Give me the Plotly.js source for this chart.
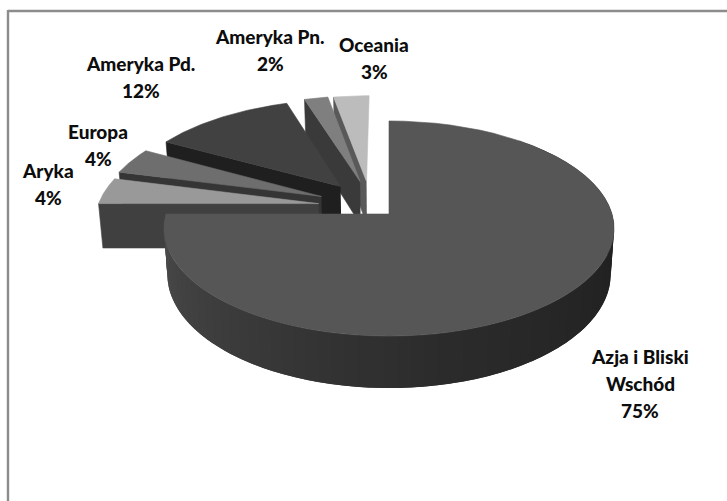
<!DOCTYPE html>
<html lang="pl">
<head>
<meta charset="utf-8">
<title>Wykres kołowy</title>
<script src="https://cdn.plot.ly/plotly-3.0.1.min.js"></script>
<style>html,body{margin:0;padding:0;background:#fff}#chart{width:727px;height:501px}</style>
</head>
<body>
<div id="chart"></div>
<script>
// Shares in percent, clockwise from twelve o'clock
const categories = ['Azja i Bliski Wschód', 'Aryka', 'Europa', 'Ameryka Pd.', 'Ameryka Pn.', 'Oceania'];
const shares = [75, 4, 4, 12, 2, 3];

// Label layout: text lines per category and where each block sits
const labelLines = [['Azja i Bliski', 'Wschód'], ['Aryka'], ['Europa'], ['Ameryka Pd.'], ['Ameryka Pn.'], ['Oceania']];
const labelX = [640, 48, 98, 140.5, 270, 374];
const labelY = [356, 170, 131, 63, 36, 44];

// Slice styling and explosion (offset of each apex in the plane of the disc)
const topColors = ['#565656', '#999999', '#6e6e6e', '#414141', '#7f7f7f', '#bcbcbc'];
const wallColors = ['#3a3a3a', '#404040', '#353535', '#1f1f1f', '#3a3a3a', '#595959'];
const offsetU = [0, -0.32, -0.31, -0.225, -0.135, -0.105];
const offsetV = [0, 0.10, 0.17, 0.27, 0.32, 0.32];

// Perspective projection of the tilted disc
const cx = 389, cy = 214, radiusX = 223, radiusY = 105.6, persp = 0.135, depth = 45;
function project(u, v, lowered) {
  const s = 1 / (1 + persp * v);
  return [
    cx + radiusX * u * s * (lowered ? 0.985 : 1),
    cy - radiusY * v * s + (lowered ? depth * s : 0)
  ];
}
const rad = d => d * Math.PI / 180;
const rim = (deg, i, lowered) => project(offsetU[i] + Math.sin(rad(deg)), offsetV[i] + Math.cos(rad(deg)), lowered);

function polygon(points, color, edge) {
  return {
    type: 'scatter', mode: 'lines', fill: 'toself', fillcolor: color,
    x: points.map(p => p[0]), y: points.map(p => p[1]),
    line: {color: color, width: edge}, hoverinfo: 'skip', showlegend: false
  };
}

// Start and end angle of every slice
const angles = [];
let running = 0;
shares.forEach(s => { angles.push([running * 3.6, (running + s) * 3.6]); running += s; });

function topFace(i) {
  const pts = [project(offsetU[i], offsetV[i], false)];
  for (let a = angles[i][0]; a <= angles[i][1] + 1e-6; a += (angles[i][1] - angles[i][0]) / 60) pts.push(rim(a, i, false));
  pts.push(pts[0]);
  return polygon(pts, topColors[i], 0.6);
}
function radialWall(i) {
  const a = angles[i][0];
  return polygon([
    project(offsetU[i], offsetV[i], false), rim(a, i, false),
    rim(a, i, true), project(offsetU[i], offsetV[i], true)
  ], wallColors[i], 0.6);
}

// Shaded rim of the large slice, from right (dark) to left (lighter)
const rimStops = [[40, 0x20], [110, 0x22], [170, 0x2c], [220, 0x3c], [270, 0x4c]];
function rimGrey(a) {
  for (let k = 1; k < rimStops.length; k++) {
    if (a <= rimStops[k][0]) {
      const t = (a - rimStops[k - 1][0]) / (rimStops[k][0] - rimStops[k - 1][0]);
      const g = Math.round(rimStops[k - 1][1] + t * (rimStops[k][1] - rimStops[k - 1][1]));
      return `rgb(${g},${g},${g})`;
    }
  }
  return 'rgb(76,76,76)';
}
// Each rim band reaches under the next one so no seams show between them
function rimBand(a, step) {
  const end = Math.min(a + step, 270);
  const upper = [], lower = [];
  for (let t = a; t <= end + 1e-6; t += 0.5) { upper.push(rim(t, 0, false)); lower.unshift(rim(t, 0, true)); }
  return polygon(upper.concat(lower), rimGrey(a), 0);
}

const traces = [];
// Back slices first, each overlapping the one behind it
for (let i = categories.length - 1; i >= 1; i--) {
  traces.push(radialWall(i));
  traces.push(topFace(i));
}
for (let a = 40; a < 270; a += 3) traces.push(rimBand(a, 6));
traces.push(topFace(0));

// One annotation per text line keeps the wide line spacing of the labels
const lineGap = 27;
const annotations = [];
categories.forEach((c, i) => {
  const lines = labelLines[i].concat([shares[i] + '%']);
  lines.forEach((t, j) => annotations.push({
    x: labelX[i], y: labelY[i] + j * lineGap, xref: 'x', yref: 'y',
    text: t, showarrow: false, xanchor: 'center', yanchor: 'middle',
    font: {family: 'Lato, sans-serif', size: 19, weight: 900, color: '#0d0d0d'}
  }));
});

const layout = {
  width: 727, height: 501,
  margin: {l: 0, r: 0, t: 0, b: 0},
  paper_bgcolor: '#ffffff', plot_bgcolor: '#ffffff',
  showlegend: false,
  xaxis: {range: [0, 727], visible: false, fixedrange: true},
  yaxis: {range: [501, 0], visible: false, fixedrange: true},
  annotations: annotations,
  shapes: [
    {type: 'line', xref: 'x', yref: 'y', x0: 8, x1: 727, y0: 11, y1: 11, line: {color: '#8c8c8c', width: 2.4}},
    {type: 'line', xref: 'x', yref: 'y', x0: 8, x1: 8, y0: 10, y1: 501, line: {color: '#8c8c8c', width: 2.4}}
  ]
};
Plotly.newPlot('chart', traces, layout, {displayModeBar: false, staticPlot: true});
</script>
</body>
</html>
